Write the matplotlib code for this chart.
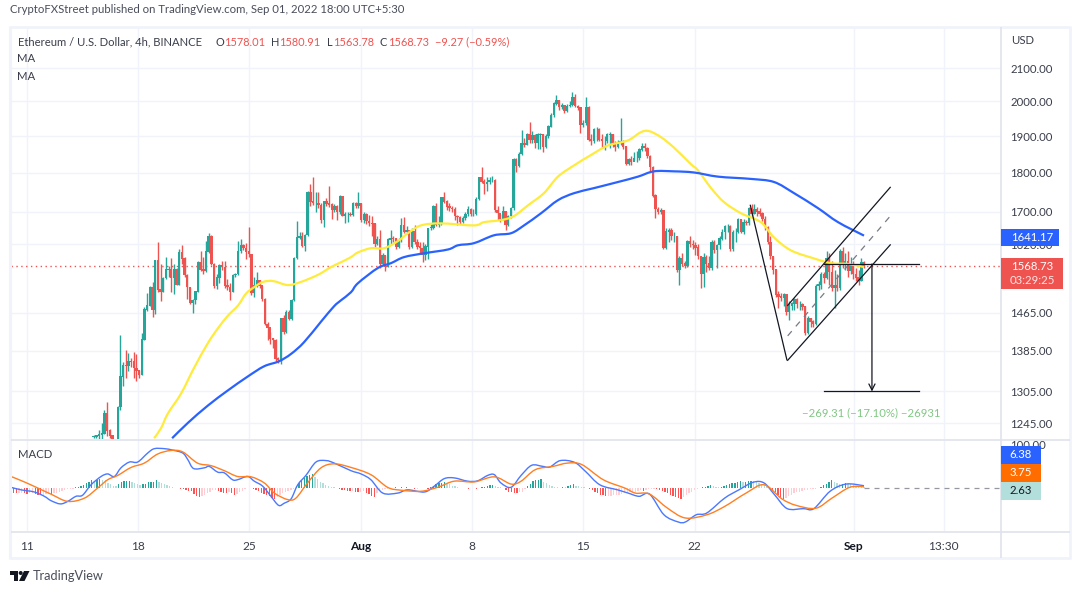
import numpy as np
import matplotlib
matplotlib.use("Agg")
import matplotlib.pyplot as plt
from matplotlib.patches import Rectangle, Polygon, Circle, PathPatch
from matplotlib.path import Path

plt.rcParams["font.family"] = ["Lato", "DejaVu Sans"]

# 4h candles, the earlier ones sit below the visible price range
closes = [
    1221, 1222, 1224, 1226, 1263, 1231, 1222, 1216, 1208, 1275,
    1333, 1356, 1354, 1364, 1363, 1350, 1345, 1337, 1408, 1472,
    1480, 1521, 1472, 1582, 1516, 1511, 1541, 1561, 1561, 1541,
    1561, 1527, 1601, 1586, 1548, 1521, 1487, 1492, 1511, 1578,
    1561, 1558, 1603, 1640, 1574, 1524, 1543, 1571, 1567, 1524,
    1521, 1511, 1548, 1550, 1604, 1617, 1611, 1603, 1597, 1508,
    1526, 1537, 1524, 1495, 1441, 1433, 1410, 1407, 1369, 1367,
    1452, 1425, 1466, 1452, 1492, 1588, 1636, 1640, 1617, 1642,
    1749, 1725, 1722, 1722, 1716, 1680, 1725, 1720, 1718, 1704,
    1714, 1700, 1738, 1690, 1694, 1694, 1692, 1721, 1715, 1720,
    1680, 1692, 1676, 1671, 1670, 1621, 1632, 1574, 1594, 1568,
    1631, 1635, 1634, 1615, 1630, 1667, 1651, 1654, 1615, 1651,
    1625, 1615, 1611, 1595, 1615, 1659, 1660, 1714, 1667, 1670,
    1736, 1725, 1713, 1709, 1706, 1688, 1686, 1675, 1684, 1694,
    1706, 1694, 1694, 1732, 1788, 1777, 1772, 1775, 1780, 1781,
    1703, 1696, 1682, 1700, 1667, 1688, 1709, 1837, 1818, 1850,
    1880, 1876, 1904, 1888, 1901, 1882, 1904, 1904, 1871, 1899,
    1927, 1959, 1993, 2003, 1983, 1988, 1971, 1985, 1988, 2013,
    1985, 1981, 1931, 1936, 1983, 1890, 1885, 1919, 1919, 1890,
    1885, 1885, 1904, 1904, 1876, 1871, 1880, 1884, 1871, 1824,
    1836, 1830, 1839, 1840, 1862, 1872, 1866, 1845, 1815, 1740,
    1706, 1700, 1703, 1611, 1651, 1654, 1640, 1640, 1560, 1587,
    1575, 1570, 1627, 1620, 1618, 1612, 1592, 1551, 1590, 1575,
    1565, 1626, 1607, 1618, 1634, 1650, 1664, 1664, 1610, 1650,
    1650, 1680, 1650, 1674, 1671, 1708, 1695, 1705, 1700, 1695,
    1682, 1662, 1626, 1592, 1561, 1504, 1500, 1498, 1504, 1467,
    1480, 1485, 1493, 1483, 1483, 1478, 1421, 1453, 1446, 1442,
    1523, 1527, 1549, 1543, 1587, 1555, 1519, 1524, 1519, 1603,
    1571, 1580, 1559, 1571, 1551, 1543, 1535, 1578.01, 1568.73,
]
highs = [
    1223, 1224, 1232, 1245, 1270, 1285, 1235, 1222, 1214, 1277,
    1418, 1362, 1387, 1381, 1370, 1382, 1378, 1347, 1422, 1478,
    1508, 1524, 1532, 1583, 1625, 1574, 1545, 1590, 1570, 1588,
    1575, 1565, 1610, 1619, 1590, 1552, 1521, 1495, 1512, 1580,
    1604, 1590, 1629, 1647, 1642, 1576, 1550, 1575, 1580, 1582,
    1540, 1530, 1550, 1553, 1628, 1632, 1620, 1624, 1663, 1598,
    1545, 1555, 1538, 1526, 1497, 1445, 1425, 1412, 1410, 1372,
    1454, 1460, 1470, 1470, 1494, 1590, 1676, 1650, 1650, 1645,
    1752, 1770, 1790, 1750, 1750, 1722, 1728, 1735, 1765, 1722,
    1720, 1718, 1742, 1738, 1700, 1698, 1700, 1725, 1725, 1751,
    1722, 1698, 1696, 1692, 1690, 1673, 1640, 1655, 1600, 1596,
    1635, 1655, 1640, 1635, 1635, 1684, 1686, 1665, 1655, 1660,
    1666, 1632, 1627, 1625, 1620, 1660, 1670, 1718, 1721, 1690,
    1738, 1751, 1730, 1722, 1715, 1712, 1692, 1690, 1690, 1698,
    1715, 1708, 1706, 1736, 1790, 1815, 1785, 1790, 1790, 1792,
    1783, 1715, 1695, 1715, 1702, 1692, 1712, 1840, 1840, 1855,
    1916, 1895, 1908, 1939, 1915, 1905, 1908, 1910, 1906, 1905,
    1932, 1965, 1997, 2018, 2005, 1995, 1990, 1992, 2000, 2028,
    2022, 1990, 1983, 1945, 2012, 1985, 1907, 1922, 1925, 1922,
    1905, 1900, 1908, 1912, 1905, 1885, 1890, 1952, 1890, 1872,
    1840, 1845, 1855, 1860, 1866, 1880, 1882, 1870, 1848, 1818,
    1745, 1712, 1708, 1704, 1660, 1660, 1660, 1650, 1640, 1592,
    1600, 1582, 1630, 1640, 1630, 1625, 1620, 1593, 1600, 1596,
    1592, 1630, 1630, 1622, 1640, 1658, 1668, 1670, 1668, 1655,
    1660, 1685, 1682, 1682, 1680, 1712, 1720, 1720, 1712, 1710,
    1698, 1690, 1665, 1640, 1593, 1563, 1512, 1508, 1508, 1505,
    1490, 1488, 1497, 1497, 1490, 1487, 1480, 1458, 1453, 1450,
    1528, 1535, 1555, 1555, 1605, 1600, 1580, 1560, 1550, 1610,
    1615, 1600, 1605, 1590, 1580, 1565, 1560, 1588, 1580.91,
]
lows = [
    1218, 1218, 1216, 1216, 1225, 1222, 1218, 1205, 1200, 1205,
    1270, 1315, 1331, 1344, 1352, 1331, 1325, 1330, 1337, 1408,
    1468, 1480, 1455, 1462, 1510, 1490, 1510, 1540, 1545, 1511,
    1505, 1525, 1525, 1575, 1545, 1494, 1485, 1464, 1483, 1510,
    1558, 1552, 1556, 1600, 1572, 1520, 1518, 1530, 1560, 1520,
    1515, 1492, 1510, 1545, 1548, 1600, 1606, 1585, 1590, 1504,
    1500, 1522, 1520, 1490, 1439, 1407, 1400, 1390, 1365, 1360,
    1358, 1420, 1423, 1450, 1450, 1490, 1586, 1632, 1615, 1605,
    1640, 1715, 1716, 1700, 1708, 1672, 1662, 1715, 1712, 1682,
    1700, 1680, 1695, 1688, 1672, 1675, 1690, 1690, 1708, 1708,
    1675, 1672, 1670, 1665, 1641, 1615, 1618, 1565, 1570, 1557,
    1566, 1622, 1625, 1610, 1612, 1625, 1648, 1645, 1610, 1612,
    1620, 1608, 1600, 1579, 1583, 1585, 1655, 1658, 1665, 1662,
    1668, 1722, 1705, 1702, 1700, 1680, 1668, 1670, 1672, 1680,
    1690, 1690, 1688, 1692, 1730, 1773, 1745, 1752, 1770, 1775,
    1700, 1680, 1675, 1680, 1655, 1665, 1685, 1705, 1803, 1815,
    1848, 1870, 1875, 1880, 1880, 1868, 1865, 1865, 1855, 1868,
    1895, 1925, 1955, 1990, 1975, 1978, 1965, 1968, 1982, 1985,
    1982, 1975, 1910, 1925, 1930, 1885, 1876, 1882, 1885, 1885,
    1870, 1862, 1880, 1868, 1870, 1860, 1868, 1875, 1865, 1820,
    1822, 1822, 1835, 1830, 1835, 1860, 1860, 1840, 1805, 1738,
    1684, 1695, 1695, 1608, 1608, 1625, 1630, 1625, 1555, 1525,
    1570, 1565, 1568, 1615, 1608, 1595, 1585, 1520, 1522, 1555,
    1560, 1560, 1600, 1565, 1610, 1630, 1634, 1650, 1605, 1605,
    1625, 1648, 1648, 1645, 1668, 1668, 1690, 1695, 1690, 1690,
    1678, 1655, 1620, 1585, 1550, 1500, 1475, 1490, 1480, 1460,
    1450, 1470, 1470, 1475, 1470, 1472, 1418, 1420, 1435, 1435,
    1438, 1515, 1518, 1530, 1540, 1525, 1512, 1475, 1512, 1516,
    1565, 1560, 1545, 1550, 1540, 1535, 1525, 1535, 1563.78,
]

# moving averages, bar number / price
ma_yellow_bar = [54, 56.6, 59.2, 64.2, 69, 74.3, 78.1, 81.9, 85.7, 88.7, 91.7, 95.1, 98.9, 104.5,
                 109.4, 115.8, 120.8, 124.5, 128.3, 130.9, 135.8, 140.8, 146, 149.8, 154.7, 162.3,
                 174.7, 178.5, 184.9, 189.8, 195.1, 201.1, 206.4, 212.5, 218.9, 225.3, 232.8, 237.7,
                 240.8, 245.3, 250.2, 256.6, 259.2, 264.2, 269.1, 275.5, 283, 287.9, 294.3, 303,
                 309.4, 315.8, 321.9]
ma_yellow = [1218, 1236, 1263, 1301, 1350, 1401, 1432, 1459, 1481, 1507, 1521, 1533, 1535, 1526,
             1533, 1549, 1567, 1578, 1590, 1601, 1611, 1611, 1628, 1647, 1666, 1671,
             1666, 1674, 1679, 1689, 1716, 1747, 1790, 1820, 1848, 1874, 1888, 1911,
             1914, 1897, 1868, 1823, 1807, 1760, 1724, 1696, 1674, 1637, 1606, 1587,
             1576, 1574, 1567]
ma_blue_bar = [60.8, 66.8, 74.3, 81.9, 89.4, 95.5, 101.1, 105.7, 110.6, 117, 121.9, 124.5, 128.3,
               130.9, 138.5, 143.4, 148.3, 155.8, 164.9, 168.7, 174.7, 182.3, 188.7, 193.6, 200,
               206.4, 212.5, 220, 229.1, 236.6, 242.6, 250.2, 257.7, 266.8, 279.2, 287.9, 295.5,
               304.5, 312.1, 321.9]
ma_blue = [1218, 1246, 1278, 1307, 1334, 1354, 1364, 1379, 1403, 1446, 1479, 1492, 1510,
           1530, 1565, 1576, 1590, 1599, 1608, 1618, 1623, 1642, 1647, 1666, 1696,
           1729, 1747, 1760, 1776, 1790, 1804, 1804, 1801, 1790, 1784, 1776, 1747,
           1709, 1674, 1641.17]

# MACD pane
macd_bar = [0, 3.8, 8.8, 12.6, 15.1, 18.6, 21.4, 24.5, 27, 30.2, 34, 36.5, 39, 41.5, 44.7, 47.8,
            51.6, 54.1, 57.9, 61, 64.8, 66.7, 68.9, 73, 74.8, 78, 80.5, 83.6, 85.5, 89.3, 91.8, 95,
            98.1, 101, 103.1, 105.7, 108.2, 111.3, 115.1, 118.9, 122, 128.3, 132.1, 135.8, 140.3,
            145.9, 149.7, 156, 159.7, 163.5, 167.3, 172.3, 176.1, 179.9, 182.4, 184.9, 188.7, 192.5,
            196.5, 200.6, 203.3, 207.3, 212.7, 216.8, 222.2, 228.9, 232.9, 237, 241, 246.4, 251.8,
            254.5, 258.6, 262.6, 269.3, 274.7, 280.1, 284.2, 288.2, 292.9, 299, 303, 309.1, 315.2,
            321.9]
macd_line = [2, -5, -11, -23, -35, -44, -37, -23, -20, 9, 32, 39, 32, 56, 72, 72,
             97, 109, 109, 105, 97, 79, 54, 56, 60, 44, 42, 23, 23, 32, 19, 5,
             -23, -48, -42, -30, 9, 35, 72, 76, 69, 48, 39, 23, -14,
             -14, -5, -11, 5, 26, 28, 19, 20, 35, 37, 14, 2, 35,
             63, 60, 58, 76, 71, 46, 9, -5, -14, -23, -17, -74, -94,
             -94, -74, -69, -28, -5, 16, 14, -19, -57, -57, -57, -9, 11,
             6.38]
signal_bar = [0, 5, 10.1, 15.1, 21.4, 27.7, 32.7, 36.5, 40.3, 45.3, 50.3, 55.3, 60.4, 64.8, 70.4,
              75.5, 80.5, 85.5, 90.6, 95.6, 99.4, 104.4, 107.5, 111.9, 117, 122, 128.3, 135.8, 142.1,
              147.2, 154.7, 161, 167.3, 174.8, 182.4, 188.7, 192.5, 197.9, 204.6, 210, 215.4, 223.5,
              231.6, 235.6, 241, 247.8, 254.5, 262.6, 269.3, 277.4, 284.2, 290.9, 296.3, 303.7, 309.8,
              316.5, 321.9]
signal_line = [32, 17, 0, -17, -37, -28, 0, 23, 35, 57, 69, 94, 104, 100, 69,
               62, 48, 32, 31, 14, -14, -32, -28, 14, 56, 67, 57, 37, 2,
               -6, -9, 2, 19, 17, 31, 11, 19, 51, 60, 69, 65, 23,
               0, -14, -17, -56, -83, -74, -51, -14, 9, -30, -48, -56, -28,
               2, 3.75]
hist = [
    -12, -13, -14, -14, -13, -15, -16, -15, -14, -17, -18, -19, -19, -17, -16, -17, -15, -13, -10, -8,
    -6, -4, -3, -2,
    2, 4, 6, 8, 13, 17, 21, 20, 22, 24, 23, 21,
    15, 10, 6, 5, 10, 16, 19, 19, 20, 17, 13, 11, 9, 10, 12, 16, 18, 18, 23,
    17, 13, 11, 8, 5, 3, 1,
    -1, -2, -3, -5, -7, -9, -17, -23, -26, -22, -19,
    -15, -10, -6, -5, -7, -10, -13, -14, -12, -15, -18, -17, -10, -7, -3, -1, 1,
    -3, -5, -9, -14, -17, -19, -23, -27, -30, -26, -20, -14, -12, -9, -5, -2,
    6, 14, 22, 28, 33, 36, 40, 30, 24, 18, 13, 9, 6, 4, 2,
    -1, -3, -5, -6, -8, -9, -8, -10, -12, -10, -9, -13, -16, -22, -26,
    -14, -9, -5, -3, -2, -1, 1, 2, 1, 2, 1, 2, 1, -1, -2, -2, -1, -1, -1, -3,
    3, 6, 10, 14, 15, 16, 12, 10, 7, 5, 3, 1, 0, -1, -2, -1, 0,
    -2, -1, 2, 4, 6, 8, 8, 7, 4, 2, 1,
    -6, -10, -12, -13, -14, -12, -10, -3, 5, 12,
    20, 22, 23, 24, 18, 14, 9, 6, 3, 2, 1, 3, 2, 6, 9, 10, 7, 5, 3, 2, 1,
    -3, -6, -10, -14, -18, -20, -23,
    -22, -21, -20, -19, -18, -17, -15, -13, -12, -11, -10, -8, -6, -8, -6, -4, -3, -2, -3,
    -5, -8, -11, -15, -19, -22, -25, -28, -30, -25, -20, -15, -10, -6, -3,
    1, 2, 3, 5, 8, 7, 3, 2, 4, 6, 9, 10, 13, 15, 17, 19, 17, 18, 20, 20, 19, 18, 15, 12, 8, 5, 2,
    -5, -10, -18, -25, -30, -28, -22, -18, -15, -12, -10, -8, -6, -5, -4, -3, -2, 0,
    4, 8, 12, 16, 21, 18, 14, 10, 12, 15, 12, 10, 8, 6, 4, 3, 2.63,
]

# drawing tools on the price pane, bar number / price
flagpole_bar = [279, 292.8]
flagpole_price = [1716, 1367]
channel_bar = [293.1, 331.8]
channel_upper = [1481, 1762]
channel_mid = [1416, 1689]
channel_lower = [1366, 1619]
range_bar = [306.9, 342.8]
range_top = 1574.04
range_bottom = 1304.73
arrow_bar = 324.9

price_ticks = [2100, 2000, 1900, 1800, 1700, 1620, 1465, 1385, 1305, 1245]
date_ticks = [6, 48, 90, 132, 174, 216, 258, 318, 352]
date_labels = ["11", "18", "25", "Aug", "8", "15", "22", "Sep", "13:30"]
bold_dates = ["Aug", "Sep"]

GREEN = "#26a69a"
RED = "#ef5350"
GRID = "#f0f3fa"
BORDER = "#e0e3eb"
TEXT = "#3a3e4a"

W, H = 1078, 594
FS = 8.2


def px_axes(left, top, right, bottom):
    return fig.add_axes([left / W, 1 - bottom / H, (right - left) / W, (bottom - top) / H])


# rounds the line through the points that were read, the points stay as they are
def smooth_line(axis, xs, ys, color, lw, zorder):
    xs = np.asarray(xs, dtype=float)
    ys = np.asarray(ys, dtype=float)
    verts = [(xs[0], ys[0])]
    codes = [Path.MOVETO]
    for i in range(len(xs) - 1):
        a, d = max(i - 1, 0), min(i + 2, len(xs) - 1)
        verts.append((xs[i] + (xs[i + 1] - xs[a]) / 6, ys[i] + (ys[i + 1] - ys[a]) / 6))
        verts.append((xs[i + 1] - (xs[d] - xs[i]) / 6, ys[i + 1] - (ys[d] - ys[i]) / 6))
        verts.append((xs[i + 1], ys[i + 1]))
        codes += [Path.CURVE4, Path.CURVE4, Path.CURVE4]
    axis.add_patch(PathPatch(Path(verts, codes), fill=False, edgecolor=color, lw=lw, zorder=zorder))


fig = plt.figure(figsize=(W / 100, H / 100), dpi=100, facecolor="white")

# price pane
ax = px_axes(11, 27, 1001, 439)
ax.set_yscale("log")
ax.set_xlim(0, 373.6)
ax.set_ylim(1216.6, 2231)
ax.yaxis.set_major_locator(plt.FixedLocator(price_ticks))
ax.yaxis.set_minor_locator(plt.NullLocator())
ax.yaxis.set_major_formatter(plt.FuncFormatter(lambda v, _: f"{v:.2f}"))
ax.yaxis.tick_right()
ax.tick_params(axis="y", length=0, pad=6.5, labelsize=FS, labelcolor=TEXT)
ax.set_xticks(date_ticks)
ax.tick_params(axis="x", length=0, labelbottom=False)
ax.grid(True, color=GRID, lw=1)
ax.set_axisbelow(True)
for s in ax.spines.values():
    s.set_visible(False)

closes_arr = np.array(closes, dtype=float)
opens_arr = np.r_[closes_arr[0], closes_arr[:-1]]
bars = 31.2 + np.arange(len(closes)) * 290.7 / (len(closes) - 1)
colors = [GREEN if c >= o else RED for o, c in zip(opens_arr, closes_arr)]

ax.vlines(bars, lows, highs, colors=colors, lw=1, zorder=3)
ax.bar(bars, np.abs(closes_arr - opens_arr) + 1, bottom=np.minimum(opens_arr, closes_arr),
       width=0.9, color=colors, lw=0, zorder=3)
smooth_line(ax, ma_yellow_bar, ma_yellow, "#ffeb3b", 1.6, 4)
smooth_line(ax, ma_blue_bar, ma_blue, "#2962ff", 1.6, 4)
ax.axhline(closes[-1], color=RED, lw=1, ls=(0, (1, 2.5)), zorder=2)

ax.plot(flagpole_bar, flagpole_price, color="#131722", lw=0.9, zorder=5)
ax.plot(channel_bar, channel_upper, color="#131722", lw=0.9, zorder=5)
ax.plot(channel_bar, channel_lower, color="#131722", lw=0.9, zorder=5)
ax.plot(channel_bar, channel_mid, color="#787b86", lw=0.9, ls=(0, (5, 5)), zorder=5)
ax.plot(range_bar, [range_top, range_top], color="#131722", lw=0.9, zorder=5)
ax.plot(range_bar, [range_bottom, range_bottom], color="#131722", lw=0.9, zorder=5)
ax.annotate("", xy=(arrow_bar, range_bottom), xytext=(arrow_bar, range_top), zorder=5,
            arrowprops=dict(arrowstyle="->", color="#131722", lw=0.9, shrinkA=0, shrinkB=0, mutation_scale=11))

# MACD pane
ax2 = px_axes(11, 440, 1001, 531)
ax2.set_xlim(0, 373.6)
ax2.set_ylim(-119, 133)
ax2.set_xticks(date_ticks)
ax2.set_xticklabels(date_labels)
ax2.set_yticks([])
ax2.tick_params(axis="x", length=0, pad=7.5, labelsize=FS + 0.4, labelcolor=TEXT)
for lab in ax2.get_xticklabels():
    if lab.get_text() in bold_dates:
        lab.set_color("#131722")
        lab.set_fontweight("bold")
ax2.grid(True, axis="x", color=GRID, lw=1)
ax2.set_axisbelow(True)
for s in ax2.spines.values():
    s.set_visible(False)

hist_arr = np.array(hist, dtype=float)
hist_pos = np.arange(len(hist)) * 321.9 / (len(hist) - 1)
hist_colors = []
for i, v in enumerate(hist_arr):
    prev = hist_arr[i - 1] if i else v
    if v >= 0:
        hist_colors.append(GREEN if v >= prev else "#b2dfdb")
    else:
        hist_colors.append("#ffcdd2" if v >= prev else "#ff5252")
ax2.bar(hist_pos, hist_arr, width=0.5, color=hist_colors, lw=0, zorder=2)
smooth_line(ax2, macd_bar, macd_line, "#4a78ff", 1, 3)
smooth_line(ax2, signal_bar, signal_line, "#ff7f22", 1, 4)
ax2.plot([321.9, 373.6], [0, 0], color="#9598a1", lw=0.9, ls=(0, (4, 4)), zorder=2)

# everything framed around the panes, in pixels
ov = fig.add_axes([0, 0, 1, 1], zorder=10)
ov.set_xlim(0, W)
ov.set_ylim(H, 0)
ov.axis("off")
ov.patch.set_alpha(0)

for x0, y0, x1, y1, c, lw in [
    (10, 26.5, 1070, 26.5, GRID, 2), (10, 558, 1070, 558, GRID, 2),
    (10, 26, 10, 559, GRID, 2.2), (1070, 26, 1070, 559, GRID, 2),
    (11, 439.5, 1070, 439.5, BORDER, 1.2), (11, 531.5, 1070, 531.5, BORDER, 1.2),
    (1001, 27, 1001, 558, BORDER, 1.2),
]:
    ov.plot([x0, x1], [y0, y1], color=c, lw=lw, solid_capstyle="butt")

ov.text(10, 9.5, "CryptoFXStreet published on TradingView.com, Sep 01, 2022 18:00 UTC+5:30",
        fontsize=8.2, color="#4a4e5a", va="center")
ov.text(18, 42, "Ethereum / U.S. Dollar, 4h, BINANCE", fontsize=8.15, color=TEXT, va="center")
for x, s, c in [(215, "O", TEXT), (224, "1578.01", RED), (271, "H", TEXT), (279, "1580.91", RED),
                (327, "L", TEXT), (333, "1563.78", RED), (380, "C", TEXT), (388, "1568.73", RED),
                (435, "\u22129.27 (\u22120.59%)", RED)]:
    ov.text(x, 42, s, fontsize=7.9, color=c, va="center")
ov.text(17, 59, "MA", fontsize=8.2, color=TEXT, va="center")
ov.text(17, 76, "MA", fontsize=8.2, color=TEXT, va="center")
ov.text(18, 455, "MACD", fontsize=8.2, color=TEXT, va="center")
ov.text(1011, 41, "USD", fontsize=8.2, color=TEXT, va="center")
ov.text(802, 413, "\u2212269.31 (\u221217.10%) \u221226931", fontsize=8.2, color="#81c784", va="center")

# clipped scale label behind the MACD boxes
cut = ov.text(1010, 445.5, "100.00", fontsize=FS, color=TEXT, va="center")
cut.set_clip_path(Rectangle((1002, 440), 60, 12, transform=ov.transData))

for x0, y0, x1, y1, c in [(1001, 229, 1059, 246, "#2962ff"), (1001, 258, 1063, 289, RED),
                          (1001, 446, 1041, 464, "#2962ff"), (1001, 464, 1041, 482, "#ff6d00"),
                          (1001, 482, 1041, 500, "#b2dfdb")]:
    ov.add_patch(Rectangle((x0, y0), x1 - x0, y1 - y0, color=c, lw=0, zorder=5))
ov.text(1011, 237.5, "1641.17", fontsize=FS, color="white", va="center", zorder=6)
ov.text(1011, 266.5, "1568.73", fontsize=FS, color="white", va="center", zorder=6)
ov.text(1010, 280.5, "03:29:25", fontsize=FS, color="#fde3e3", va="center", zorder=6)
ov.text(1021, 455, "6.38", fontsize=FS, color="white", va="center", ha="center", zorder=6)
ov.text(1021, 473, "3.75", fontsize=FS, color="white", va="center", ha="center", zorder=6)
ov.text(1021, 491, "2.63", fontsize=FS, color="#131722", va="center", ha="center", zorder=6)

# TradingView mark
ov.add_patch(Polygon([(10, 571), (18, 571), (18, 581), (14, 581), (14, 575), (10, 575)], color="#131722", lw=0))
ov.add_patch(Circle((20.7, 573), 2, color="#131722", lw=0))
ov.add_patch(Polygon([(24, 571), (29.5, 571), (24.5, 581), (19, 581)], color="#131722", lw=0))
ov.text(33, 576, "TradingView", fontsize=9.2, color="#4a4e5a", va="center")

fig.savefig("out.png", dpi=100)
